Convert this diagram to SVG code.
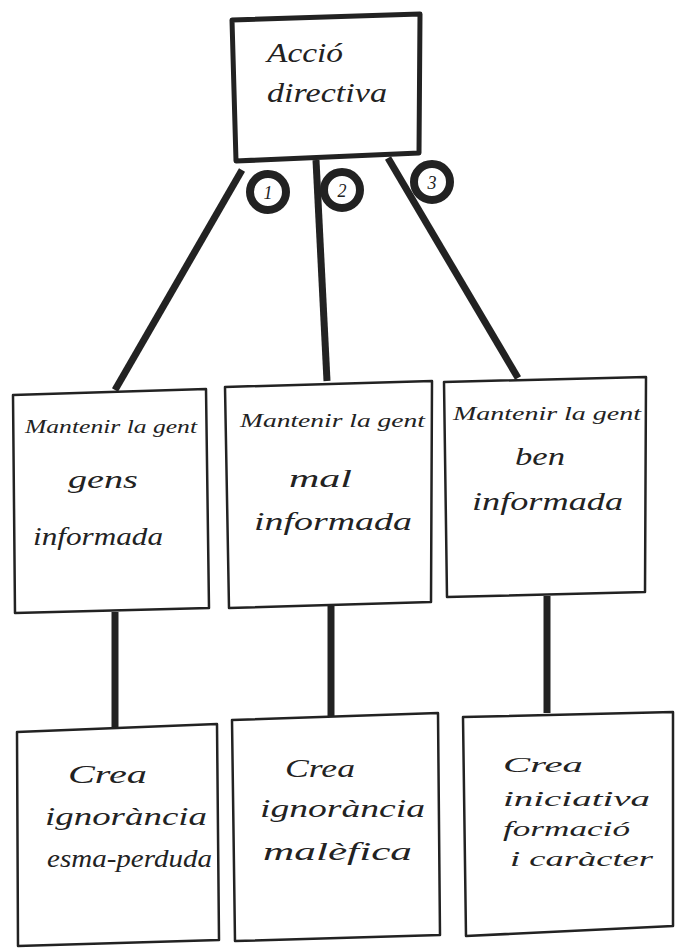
<svg xmlns="http://www.w3.org/2000/svg" width="676" height="951" viewBox="0 0 676 951">
<style>
.box{fill:#fff;stroke:#222;stroke-width:2.5;stroke-linejoin:round}
.top{fill:#fff;stroke:#222;stroke-width:5;stroke-linejoin:round}
.con{stroke:#222;stroke-width:7;fill:none;stroke-linecap:butt}
.circ{fill:#fff;stroke:#222;stroke-width:8}
text{font-family:"Liberation Serif",serif;font-style:italic;fill:#222}
.s{font-size:19px}
.m{font-size:26px}
.t{font-size:22px}
.l{font-size:27px}
.n{font-size:18px;text-anchor:middle}
</style>
<rect width="676" height="951" fill="#fff"/>
<g id="connectors">
<line class="con" x1="242" y1="170" x2="115" y2="390"/>
<line class="con" x1="316" y1="160" x2="327" y2="381"/>
<line class="con" x1="388" y1="158" x2="518" y2="378"/>
<line class="con" x1="115" y1="612" x2="115" y2="731"/>
<line class="con" x1="331" y1="606" x2="331" y2="719"/>
<line class="con" x1="547" y1="596" x2="547" y2="713"/>
</g>
<g id="acciodirectiva">
<path class="top" d="M232,20 L420,14 L419,153 L236,161 Z"/>
<text class="l" x="267" y="62" textLength="76" lengthAdjust="spacingAndGlyphs">Acció</text>
<text class="l" x="267" y="102" textLength="120" lengthAdjust="spacingAndGlyphs">directiva</text>
</g>
<g id="c1"><circle class="circ" cx="268" cy="192" r="18"/><text class="n" x="268" y="199">1</text></g>
<g id="c2"><circle class="circ" cx="342" cy="190" r="18"/><text class="n" x="342" y="197">2</text></g>
<g id="c3"><circle class="circ" cx="432" cy="182" r="18"/><text class="n" x="432" y="189">3</text></g>
<g id="gens">
<path class="box" d="M13,395 L206,389 L209,608 L15,613 Z"/>
<text class="s" x="25" y="433" textLength="172" lengthAdjust="spacingAndGlyphs">Mantenir la gent</text>
<text class="m" x="68" y="488" textLength="70" lengthAdjust="spacingAndGlyphs">gens</text>
<text class="m" x="33" y="545" textLength="130" lengthAdjust="spacingAndGlyphs">informada</text>
</g>
<g id="mal">
<path class="box" d="M225,387 L432,381 L431,602 L229,608 Z"/>
<text class="s" x="240" y="427" textLength="185" lengthAdjust="spacingAndGlyphs">Mantenir la gent</text>
<text class="m" x="289" y="487" textLength="63" lengthAdjust="spacingAndGlyphs">mal</text>
<text class="m" x="254" y="530" textLength="158" lengthAdjust="spacingAndGlyphs">informada</text>
</g>
<g id="ben">
<path class="box" d="M444,382 L646,377 L645,592 L447,597 Z"/>
<text class="s" x="453" y="420" textLength="188" lengthAdjust="spacingAndGlyphs">Mantenir la gent</text>
<text class="m" x="515" y="465" textLength="50" lengthAdjust="spacingAndGlyphs">ben</text>
<text class="m" x="472" y="510" textLength="151" lengthAdjust="spacingAndGlyphs">informada</text>
</g>
<g id="esma">
<path class="box" d="M17,732 L217,724 L219,940 L18,946 Z"/>
<text class="m" x="68" y="783" textLength="79" lengthAdjust="spacingAndGlyphs">Crea</text>
<text class="m" x="45" y="825" textLength="162" lengthAdjust="spacingAndGlyphs">ignorància</text>
<text class="m" x="47" y="867" textLength="165" lengthAdjust="spacingAndGlyphs">esma-perduda</text>
</g>
<g id="malefica">
<path class="box" d="M232,720 L438,713 L440,935 L235,941 Z"/>
<text class="m" x="285" y="777" textLength="70" lengthAdjust="spacingAndGlyphs">Crea</text>
<text class="m" x="260" y="817" textLength="165" lengthAdjust="spacingAndGlyphs">ignorància</text>
<text class="m" x="263" y="860" textLength="149" lengthAdjust="spacingAndGlyphs">malèfica</text>
</g>
<g id="iniciativa">
<path class="box" d="M463,717 L673,712 L673,926 L466,936 Z"/>
<text class="t" x="503" y="772" textLength="80" lengthAdjust="spacingAndGlyphs">Crea</text>
<text class="t" x="503" y="806" textLength="147" lengthAdjust="spacingAndGlyphs">iniciativa</text>
<text class="t" x="503" y="836" textLength="127" lengthAdjust="spacingAndGlyphs">formació</text>
<text class="t" x="510" y="866" textLength="143" lengthAdjust="spacingAndGlyphs">i caràcter</text>
</g>
</svg>
